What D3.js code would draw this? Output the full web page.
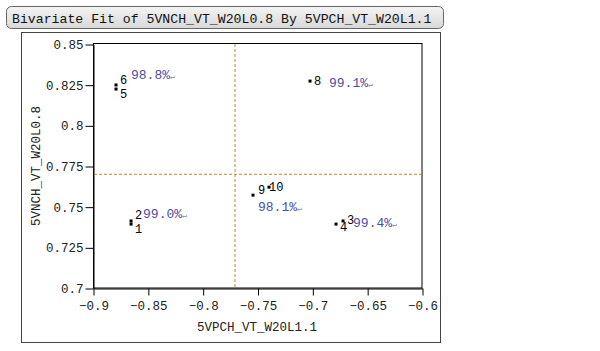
<!DOCTYPE html>
<html>
<head>
<meta charset="utf-8">
<script src="https://cdn.jsdelivr.net/npm/d3@7"></script>
<style>
  body { margin: 0; background: #fff; }
  text { font-family: "Liberation Mono", monospace; }
</style>
</head>
<body>
<div id="plot"></div>
<script>
// point ids and values
const ids    = ["1", "2", "3", "4", "5", "6", "8", "9", "10"];
const xVals  = [-0.8653, -0.8653, -0.672, -0.6784, -0.879, -0.879, -0.7021, -0.7541, -0.7395];
const yVals  = [0.7393, 0.7412, 0.7412, 0.7393, 0.8223, 0.8248, 0.8272, 0.7571, 0.762];

// percentage notes and the point each one sits by
const noteText  = ["98.8%", "99.1%", "99.0%", "98.1%", "99.4%"];
const notePoint = ["6", "8", "2", "9", "3"];

// reference lines (means)
const xMean = -0.7705;
const yMean = 0.7699;

const xTicks = [-0.9, -0.85, -0.8, -0.75, -0.7, -0.65, -0.6];
const yTicks = [0.7, 0.725, 0.75, 0.775, 0.8, 0.825, 0.85];

const titleText = "Bivariate Fit of 5VNCH_VT_W20L0.8 By 5VPCH_VT_W20L1.1";
const xTitle = "5VPCH_VT_W20L1.1";
const yTitle = "5VNCH_VT_W20L0.8";

// label offsets (px) for the ids, same order as ids
const idOff = [[4, 9], [4, -2], [4, 3], [4, 7], [4, 9], [4, -1], [4, 4], [5, -1], [0, 4]];
const noteOff = { "6": [15, -6], "8": [19, 6], "2": [12, -3], "9": [5, 16], "3": [10, 6] };

const svg = d3.select("#plot").append("svg")
  .attr("width", 600).attr("height", 351);

// title box
const grad = svg.append("defs").append("linearGradient")
  .attr("id", "tg").attr("x1", 0).attr("y1", 0).attr("x2", 0).attr("y2", 1);
grad.append("stop").attr("offset", "0%").attr("stop-color", "#f4f4f4");
grad.append("stop").attr("offset", "100%").attr("stop-color", "#d8d8d8");
svg.append("rect")
  .attr("x", 6.5).attr("y", 6.5).attr("width", 437).attr("height", 22)
  .attr("rx", 5)
  .attr("fill", "url(#tg)").attr("stroke", "#666");
svg.append("text")
  .attr("x", 12).attr("y", 23)
  .attr("font-size", 13.2).attr("fill", "#111")
  .text(titleText);

// outer frame
svg.append("rect")
  .attr("x", 21.5).attr("y", 32.5).attr("width", 419).attr("height", 310)
  .attr("fill", "none").attr("stroke", "#444");

const xScale = d3.scaleLinear().domain([-0.9, -0.6]).range([93, 422]);
const yScale = d3.scaleLinear().domain([0.7, 0.85]).range([288, 44]);

// plot box
svg.append("rect")
  .attr("x", 93.5).attr("y", 43.5).attr("width", 328.5).attr("height", 244.5)
  .attr("fill", "none").attr("stroke", "#000");

// axes
const xAxis = svg.append("g")
  .attr("transform", "translate(0.5,288.5)")
  .call(d3.axisBottom(xScale).tickValues(xTicks).tickSize(7).tickSizeOuter(0)
    .tickFormat(d => d3.format("")(d)));
const yAxis = svg.append("g")
  .attr("transform", "translate(93.5,0.5)")
  .call(d3.axisLeft(yScale).tickValues(yTicks).tickSize(8).tickSizeOuter(0)
    .tickFormat(d => d3.format("")(d)));
[xAxis, yAxis].forEach(g => {
  g.selectAll("text").attr("font-family", "Liberation Mono, monospace")
    .attr("font-size", 12.5).attr("fill", "#222");
  g.selectAll("line").attr("stroke", "#000");
  g.select(".domain").attr("stroke", "#000");
});
xAxis.selectAll("text").attr("dy", "0.9em");
yAxis.selectAll("text").attr("x", -10);

// axis titles
svg.append("text")
  .attr("x", 257).attr("y", 331)
  .attr("text-anchor", "middle").attr("font-size", 12.5).attr("fill", "#222")
  .text(xTitle);
svg.append("text")
  .attr("transform", "translate(40,166) rotate(-90)")
  .attr("text-anchor", "middle").attr("font-size", 12.5).attr("fill", "#222")
  .text(yTitle);

// reference lines
svg.append("line")
  .attr("x1", xScale(xMean)).attr("x2", xScale(xMean))
  .attr("y1", 44).attr("y2", 288)
  .attr("stroke", "#c08a30").attr("stroke-dasharray", "3,2");
svg.append("line")
  .attr("x1", 94).attr("x2", 422)
  .attr("y1", yScale(yMean)).attr("y2", yScale(yMean))
  .attr("stroke", "#c08a30").attr("stroke-dasharray", "3,2");

// points
const pts = ids.map((id, i) => ({ id: id, x: xVals[i], y: yVals[i], off: idOff[i] }));
svg.append("g").selectAll("rect")
  .data(pts).enter().append("rect")
  .attr("x", d => xScale(d.x) - 1.5)
  .attr("y", d => yScale(d.y) - 1.5)
  .attr("width", 3).attr("height", 3)
  .attr("fill", "#000");

svg.append("g").selectAll("text")
  .data(pts).enter().append("text")
  .attr("x", d => xScale(d.x) + d.off[0])
  .attr("y", d => yScale(d.y) + d.off[1])
  .attr("font-family", "Liberation Sans, Arial, sans-serif")
  .attr("font-size", 12).attr("fill", "#000")
  .text(d => d.id);

// percentage notes
const notes = noteText.map((t, i) => {
  const p = pts.find(q => q.id === notePoint[i]);
  return { t: t, x: xScale(p.x) + noteOff[p.id][0], y: yScale(p.y) + noteOff[p.id][1] };
});
const nt = svg.append("g").selectAll("text")
  .data(notes).enter().append("text")
  .attr("x", d => d.x).attr("y", d => d.y)
  .attr("font-family", "Liberation Sans, Arial, sans-serif")
  .attr("font-size", 13).attr("fill", "#4d4da6");
nt.append("tspan").text(d => d.t);
nt.append("tspan").attr("font-size", 8).attr("fill", "#8a8ab8").text("\u21b5");
</script>
</body>
</html>
